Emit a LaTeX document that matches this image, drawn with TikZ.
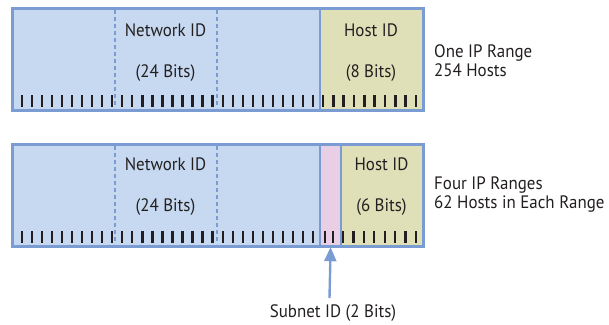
\documentclass[tikz,border=0pt]{standalone}
\usepackage{fontspec}
\setmainfont{PT Sans}[FakeStretch=0.94]
\usetikzlibrary{arrows.meta}
\definecolor{netblue}{HTML}{C6D9F0}
\definecolor{hostkhaki}{HTML}{E0E0B8}
\definecolor{subpink}{HTML}{E8CFE6}
\definecolor{bordblue}{HTML}{7B9BD3}
\definecolor{inkgray}{HTML}{231F20}
\begin{document}
\begin{tikzpicture}[x=1pt,y=-1pt]
\tikzstyle{net_style} = [draw=bordblue, fill=netblue, line width=2.2, inner sep=0, anchor=north west, minimum height=101]
\tikzstyle{host_style} = [net_style, fill=hostkhaki]
\tikzstyle{sub_style} = [net_style, fill=subpink]
\tikzstyle{dash_style} = [bordblue, line width=2, dash pattern=on 4 off 3]
\tikzstyle{tick_style} = [inkgray, line width=2.4]
\tikzstyle{label_style} = [text=inkgray, font=\fontsize{18}{19}\selectfont, inner sep=0]
\tikzstyle{info_style} = [label_style, anchor=west, align=left]
\tikzstyle{arrow_style} = [bordblue, line width=2.4, -{Triangle[length=14, width=12]}]
    \useasboundingbox (0,0) rectangle (609,324);

    % one range
    \node[net_style, minimum width=307] (net1) at (12,8) {};
    \node[host_style, minimum width=103] (host1) at (319,8) {};
    \draw[dash_style] (114.5,10) -- (114.5,108);
    \draw[dash_style] (216.5,10) -- (216.5,108);
    \foreach \i in {0,...,29} \draw[tick_style] ({21.7+\i*10.05},95) -- ++(0,12);
    \foreach \i in {0,...,9} \draw[tick_style] ({323+\i*10.33},95) -- ++(0,12);
    \draw[bordblue, line width=2.2] (net1.north west) rectangle (host1.south east);

    \node[label_style] (nid1) at (165.5,30) {Network ID};
    \node[label_style] (nbits1) at (165.5,73) {(24 Bits)};
    \node[label_style] (hid1) at (371,30) {Host ID};
    \node[label_style] (hbits1) at (371,73) {(8 Bits)};
    \node[info_style] (info1) at (434,61) {One IP Range\\254 Hosts};

    % four ranges
    \node[net_style, minimum width=307] (net2) at (12,144) {};
    \node[sub_style, minimum width=21] (sub2) at (319,144) {};
    \node[host_style, minimum width=82] (host2) at (340,144) {};
    \draw[dash_style] (114.5,146) -- (114.5,244);
    \draw[dash_style] (216.5,146) -- (216.5,244);
    \foreach \i in {0,...,29} \draw[tick_style] ({21.7+\i*10.05},231) -- ++(0,12);
    \foreach \i in {0,1} \draw[tick_style] ({325+\i*8},231) -- ++(0,12);
    \foreach \i in {0,...,7} \draw[tick_style] ({343+\i*10.43},231) -- ++(0,12);
    \draw[bordblue, line width=2.2] (net2.north west) rectangle (host2.south east);

    \node[label_style] (nid2) at (165.5,164) {Network ID};
    \node[label_style] (nbits2) at (165.5,207) {(24 Bits)};
    \node[label_style] (hid2) at (381.5,164) {Host ID};
    \node[label_style] (hbits2) at (381.5,207) {(6 Bits)};
    \node[info_style] (info2) at (434,195) {Four IP Ranges\\62 Hosts in Each Range};

    % subnet pointer
    \node[label_style] (sublbl) at (333,313) {Subnet ID (2 Bits)};
    \coordinate (subtail) at (329.5,298);
    \draw[arrow_style] (subtail) -- (sub2.south);
\end{tikzpicture}
\end{document}
